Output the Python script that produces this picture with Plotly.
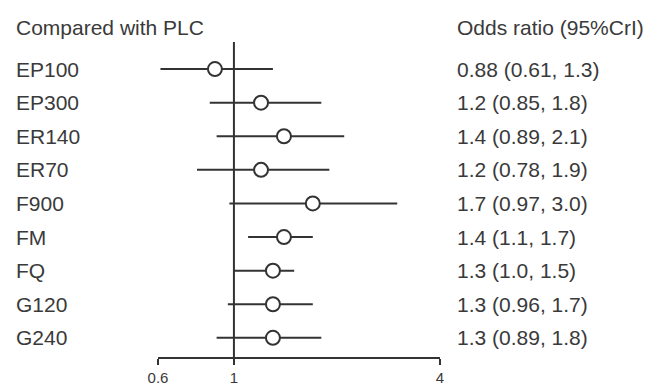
import math
import plotly.graph_objects as go

# ---- data ----
treatments = ["EP100", "EP300", "ER140", "ER70", "F900", "FM", "FQ", "G120", "G240"]
odds_ratio = [0.88, 1.2, 1.4, 1.2, 1.7, 1.4, 1.3, 1.3, 1.3]
cri_low = [0.61, 0.85, 0.89, 0.78, 0.97, 1.1, 1.0, 0.96, 0.89]
cri_high = [1.3, 1.8, 2.1, 1.9, 3.0, 1.7, 1.5, 1.7, 1.8]
or_text = ["0.88 (0.61, 1.3)", "1.2 (0.85, 1.8)", "1.4 (0.89, 2.1)", "1.2 (0.78, 1.9)",
           "1.7 (0.97, 3.0)", "1.4 (1.1, 1.7)", "1.3 (1.0, 1.5)", "1.3 (0.96, 1.7)",
           "1.3 (0.89, 1.8)"]
tick_vals = [0.6, 1, 4]
tick_text = ["0.6", "1", "4"]

W, H = 646, 387
L, R = 158, 440          # plot-area pixel edges
T, B = 42, 357
FONT = "Liberation Sans, Arial, sans-serif"
TXT = "#3a3a3a"
LINE = "#333333"
FS = 21

rows = list(range(len(treatments)))

fig = go.Figure()
fig.add_trace(go.Scatter(
    x=odds_ratio, y=rows, mode="markers",
    marker=dict(symbol="circle", size=14, color="white", line=dict(color=LINE, width=2)),
    error_x=dict(type="data", symmetric=False,
                 array=[h - o for h, o in zip(cri_high, odds_ratio)],
                 arrayminus=[o - l for o, l in zip(odds_ratio, cri_low)],
                 width=0, thickness=2, color=LINE),
    showlegend=False, cliponaxis=False,
))

# reference line at OR = 1
fig.add_shape(type="line", xref="x", yref="paper", x0=1, x1=1, y0=0, y1=1,
              line=dict(color=LINE, width=2), layer="below")

def px_to_paper_x(px):
    return (px - L) / (R - L)

def px_to_paper_y(py):
    return (B - py) / (B - T)

anns = []
for i, (name, txt) in enumerate(zip(treatments, or_text)):
    anns.append(dict(x=px_to_paper_x(14), xref="paper", y=i, yref="y", text=name,
                     xanchor="left", yanchor="middle", showarrow=False,
                     font=dict(family=FONT, size=FS, color=TXT)))
    anns.append(dict(x=px_to_paper_x(455), xref="paper", y=i, yref="y", text=txt,
                     xanchor="left", yanchor="middle", showarrow=False,
                     font=dict(family=FONT, size=FS, color=TXT)))
anns.append(dict(x=px_to_paper_x(14), xref="paper", y=px_to_paper_y(28), yref="paper",
                 text="Compared with PLC", xanchor="left", yanchor="middle", showarrow=False,
                 font=dict(family=FONT, size=FS, color=TXT)))
anns.append(dict(x=px_to_paper_x(455), xref="paper", y=px_to_paper_y(28), yref="paper",
                 text="Odds ratio (95%CrI)", xanchor="left", yanchor="middle", showarrow=False,
                 font=dict(family=FONT, size=FS, color=TXT)))

fig.update_layout(
    width=W, height=H,
    margin=dict(l=L, r=W - R, t=T, b=H - B, pad=0),
    paper_bgcolor="white", plot_bgcolor="white",
    template="none",
    xaxis=dict(type="log", range=[math.log10(0.6), math.log10(4)],
               showgrid=False, zeroline=False, showline=True, linecolor=LINE, linewidth=2,
               ticks="outside", ticklen=6, tickwidth=2, tickcolor=LINE,
               tickvals=tick_vals, ticktext=tick_text, automargin=False,
               ticklabelstandoff=0,
               tickfont=dict(family=FONT, size=15, color=TXT)),
    yaxis=dict(range=[8.57, -0.806], showgrid=False, zeroline=False, showline=False,
               showticklabels=False, ticks="", automargin=False),
    annotations=anns,
)

fig.write_html("out.html")
